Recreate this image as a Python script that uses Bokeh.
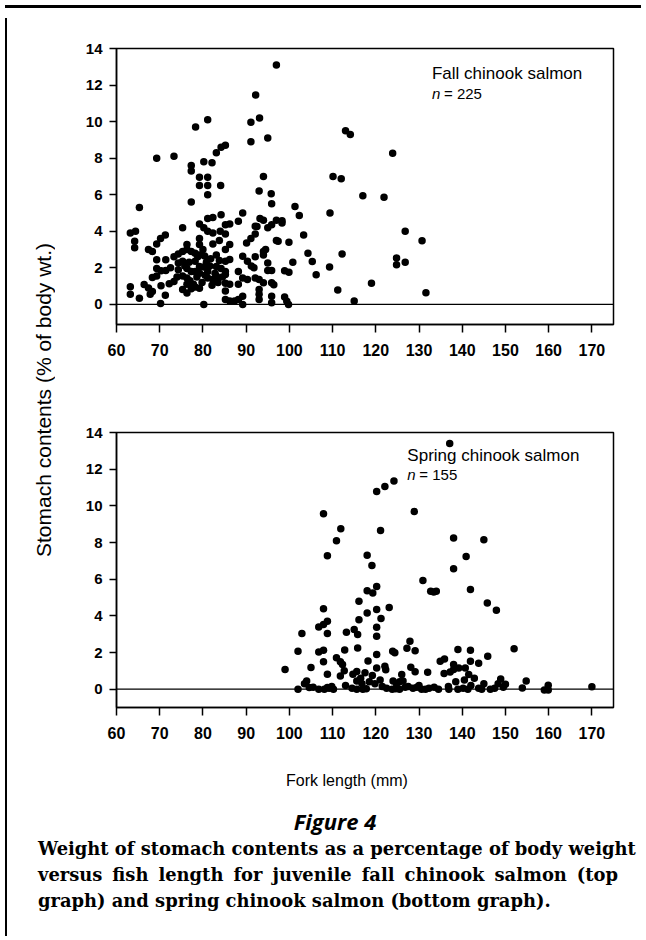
from bokeh.plotting import figure
from bokeh.models import Div, Span, Range1d, FixedTicker, ColumnDataSource
from bokeh.layouts import column, row
from bokeh.embed import file_html
from bokeh.resources import INLINE
from bokeh.core.properties import value

# ---------------- data ----------------
x_ticks = [60, 70, 80, 90, 100, 110, 120, 130, 140, 150, 160, 170]
y_ticks = [0, 2, 4, 6, 8, 10, 12, 14]

fall_length = [
    97.0, 92.2, 91.1, 93.1, 91.1, 95.0, 81.1, 78.3, 69.3, 73.3, 85.2, 84.2, 83.1, 80.2, 82.1, 77.3, 77.3,
    79.2, 81.1, 79.2, 81.1, 84.1, 81.1, 77.3, 65.3, 94.0, 93.0, 95.8, 95.9, 89.2, 101.3, 102.3, 103.3,
    109.4, 110.1, 112.0, 113.0, 114.1, 123.9, 117.0, 121.9, 126.8, 130.7, 104.3, 105.3, 106.2, 109.3,
    112.2, 124.8, 124.8, 126.8, 111.2, 115.0, 119.0, 131.6, 99.9, 100.8, 98.9, 99.9, 98.9, 99.8, 99.4,
    63.2, 64.4, 64.2, 64.2, 63.2, 63.2, 65.3,
    67.4, 68.3, 69.3, 70.2, 71.3,
    69.3, 71.4, 69.3, 70.3, 71.4,
    68.3, 69.3, 66.4, 67.4, 68.3, 67.8, 70.3, 71.3, 70.2,
    73.3, 74.3, 75.3, 75.3, 72.2, 73.3,
    74.3, 75.3, 74.3, 76.3, 77.3, 75.3, 76.3, 76.3,
    75.3, 76.3, 77.3, 78.2, 79.2,
    76.3, 77.3, 76.3, 78.2, 79.2, 80.4,
    78.2, 79.2, 80.2, 78.2, 79.2, 81.1,
    79.2, 79.2, 79.2, 80.2, 81.1, 81.1, 82.3, 82.3, 82.3,
    80.2, 81.1, 82.3, 83.1, 82.1,
    83.1, 84.2, 85.2, 83.1, 84.2, 85.2, 86.2, 85.2,
    85.2, 86.2, 85.2, 86.2, 85.2, 85.2, 86.2, 85.2, 85.2, 86.2,
    88.2, 88.2, 89.2, 90.3, 88.2, 89.2, 89.2, 88.2, 87.3,
    89.2, 90.3, 91.2, 90.1, 91.1, 92.1, 92.1, 93.2, 94.0,
    92.1, 94.0, 94.0, 92.1, 93.0, 94.0, 93.0, 93.0, 93.0,
    95.0, 95.0, 95.9, 95.9, 95.9, 95.9, 95.0, 95.9, 97.0, 97.0,
    96.4, 98.3, 98.3, 92.5, 94.5, 97.4,
    74.0, 75.8, 77.0, 78.6, 79.8, 80.8, 81.6, 82.8, 83.8, 84.5, 80.0, 83.8, 76.8, 72.5, 77.8,
    80.5, 81.8, 83.5, 78.8, 84.0, 91.8,
]
fall_stomach = [
    13.1, 11.45, 9.96, 10.2, 8.9, 9.1, 10.1, 9.7, 8.0, 8.1, 8.7, 8.6, 8.3, 7.8, 7.75, 7.6, 7.3,
    6.96, 6.95, 6.5, 6.5, 6.5, 6.0, 5.6, 5.3, 7.0, 6.2, 6.05, 5.5, 5.0, 5.36, 4.87, 3.8,
    5.0, 7.0, 6.88, 9.5, 9.3, 8.27, 5.94, 5.86, 4.0, 3.48, 2.8, 2.35, 1.62, 2.04,
    2.76, 2.54, 2.17, 2.3, 0.79, 0.19, 1.16, 0.64, 3.4, 2.3, 1.84, 1.76, 0.4, 0.0, 0.17,
    3.9, 4.0, 3.45, 3.1, 0.96, 0.55, 0.33,
    3.0, 2.9, 3.3, 3.6, 3.8,
    2.44, 2.44, 1.96, 1.84, 1.86,
    1.47, 1.55, 1.09, 0.9, 0.7, 0.55, 1.02, 0.5, 0.05,
    2.6, 2.76, 2.9, 4.2, 1.13, 1.25,
    2.27, 2.36, 1.9, 1.96, 1.8, 1.55, 1.45, 1.1,
    0.82, 0.62, 0.85, 0.95, 0.89,
    3.27, 2.9, 3.0, 2.8, 2.7, 2.65,
    2.36, 2.07, 2.04, 1.8, 1.7, 1.8,
    3.6, 3.27, 4.4, 4.2, 4.0, 4.7, 4.76, 3.9, 3.3,
    0.0, 1.45, 1.36, 1.55, 1.05,
    2.07, 1.96, 1.8, 2.7, 4.9, 4.36, 4.4, 3.85,
    3.0, 3.27, 2.36, 2.45, 1.64, 1.15, 1.1, 0.73, 0.27, 0.18,
    4.55, 1.8, 1.45, 1.36, 1.1, 0.45, 0.0, 0.27, 0.18,
    2.64, 2.36, 2.1, 3.36, 3.6, 3.85, 4.27, 4.7, 4.6,
    2.6, 2.9, 2.7, 1.45, 1.36, 1.18, 0.82, 0.55, 0.27,
    2.27, 1.85, 1.85, 1.18, 0.45, 0.09, 4.2, 4.36, 4.6, 3.5,
    1.08, 4.57, 4.45, 4.26, 3.0, 3.45,
    1.5, 2.1, 1.3, 1.5, 1.2, 2.3, 2.1, 1.7, 2.4, 1.5, 3.0, 3.5, 2.3, 2.0, 1.1,
    1.6, 2.5, 1.2, 2.6, 4.0, 2.0,
]

spring_length = [
    137.1, 120.2, 122.1, 124.2, 128.9, 107.9, 121.1, 111.9, 110.9, 138.0, 145.0, 108.8, 118.0, 119.1,
    140.9, 138.0, 130.9, 132.7, 133.4, 134.0, 141.9, 145.8, 147.9,
    118.0, 119.3, 120.2, 116.1, 118.0, 120.2, 121.2, 123.1, 116.1, 107.9,
    106.8, 107.9, 108.8, 108.8, 102.9, 113.2, 115.0, 115.8, 120.2, 120.2,
    102.0, 106.8, 107.9, 112.8, 115.8, 120.2, 123.9, 124.4, 127.9, 127.2, 129.1, 139.0, 141.9, 152.0, 145.9,
    99.0, 105.0, 107.9, 110.9, 111.8, 112.3, 111.8, 112.7, 108.8, 114.7, 115.6, 115.6, 118.2, 120.2,
    122.1, 122.3, 128.1, 129.1, 132.0, 134.9, 135.9, 135.8, 137.2, 138.0, 138.0, 139.2, 140.7, 141.5,
    141.9, 143.8, 140.5,
    148.9, 150.0, 154.8, 153.9, 159.9, 159.0, 159.9, 170.0,
    104.0, 104.6, 105.5, 116.5, 117.5, 118.5, 119.2, 116.8, 124.0, 124.8, 125.5, 126.3,
    102.0, 106.8, 108.1, 108.8, 109.8, 109.2, 110.2, 115.6, 114.5, 117.0, 117.8, 121.5, 122.5, 123.8,
    124.6, 125.5, 126.8, 127.5, 128.6, 129.5, 130.6, 131.5, 132.3, 134.5, 136.8, 136.9, 139.0, 140.2,
    141.3, 142.0, 143.8, 144.5, 146.5, 147.5, 148.3, 149.5,
    103.5, 113.0, 119.8, 121.0, 126.0, 130.0, 133.5, 138.5, 145.0, 142.8,
]
spring_stomach = [
    13.4, 10.78, 11.05, 11.36, 9.69, 9.57, 8.66, 8.75, 8.1, 8.24, 8.15, 7.28, 7.3, 6.75,
    7.24, 6.57, 5.93, 5.34, 5.30, 5.34, 5.43, 4.7, 4.3,
    5.37, 5.25, 5.6, 4.79, 4.16, 4.34, 3.85, 4.46, 3.79, 4.38,
    3.39, 3.53, 3.71, 3.04, 3.04, 3.1, 3.26, 2.98, 3.38, 2.89,
    2.07, 2.03, 2.12, 2.14, 2.25, 1.89, 2.07, 1.98, 2.61, 2.23, 2.1, 2.16, 2.12, 2.2, 1.8,
    1.07, 1.18, 1.5, 1.72, 1.5, 1.34, 0.72, 1.0, 0.82, 0.82, 0.96, 0.45, 1.53, 1.16,
    1.25, 1.06, 1.2, 0.95, 0.92, 1.52, 1.64, 0.85, 0.94, 1.34, 1.07, 1.16, 1.16, 0.8,
    1.52, 1.42, 0.5,
    0.56, 0.27, 0.44, 0.07, 0.22, -0.05, -0.05, 0.13,
    0.45, 0.09, 0.1, 0.6, 0.9, 0.4, 0.75, 0.3, 0.44, 0.3, 0.4, 0.45,
    0.0, 0.0, 0.0, 0.09, 0.15, 0.05, 0.0, 0.0, 0.05, 0.0, 0.02, 0.15, 0.05, 0.0,
    0.02, 0.0, 0.1, 0.15, 0.05, 0.1, 0.0, 0.0, 0.05, 0.0, 0.15, 0.0, 0.0, 0.05,
    0.0, 0.2, 0.05, 0.0, 0.0, 0.05, 0.3, 0.1,
    0.3, 0.2, 0.3, 0.5, 0.8, 0.2, 0.1, 0.4, 0.3, 0.6,
]

FONT = "Liberation Sans"


def make_panel(xs, ys, y_start, frame_h, top_b, bottom_b):
    p = figure(frame_width=497, frame_height=frame_h,
               x_range=Range1d(60, 175), y_range=Range1d(y_start, 14),
               output_backend="svg", toolbar_location=None,
               min_border_left=30, min_border_right=20,
               min_border_top=top_b, min_border_bottom=bottom_b,
               background_fill_color="white", border_fill_alpha=0)
    p.grid.visible = False
    p.outline_line_color = "black"
    p.outline_line_width = 1.5
    p.outline_line_alpha = 1.0

    for ax in (p.xaxis[0], p.yaxis[0]):
        ax.axis_line_width = 1.5
        ax.axis_line_color = "black"
        ax.major_tick_line_width = 1.5
        ax.major_tick_line_color = "black"
        ax.minor_tick_line_color = None
        ax.major_tick_in = 0
        ax.major_label_text_font = FONT
        ax.major_label_text_font_style = "bold"
        ax.major_label_text_color = "black"
    p.xaxis.ticker = FixedTicker(ticks=x_ticks)
    p.yaxis.ticker = FixedTicker(ticks=y_ticks)
    p.xaxis.major_tick_out = 8
    p.xaxis.major_label_standoff = 11
    p.xaxis.major_label_text_font_size = "16px"
    p.yaxis.major_tick_out = 7
    p.yaxis.major_label_standoff = 7
    p.yaxis.major_label_text_font_size = "15px"

    p.add_layout(Span(location=0, dimension="width", line_color="black", line_width=1.2))
    src = ColumnDataSource(dict(x=xs, y=ys))
    p.scatter("x", "y", source=src, size=7.5, color="black", line_width=0)
    return p


def add_label(p, x, y_title, y_n, title, n_text):
    p.text(x=[x], y=[y_title], text=[title], text_font=value(FONT),
           text_font_size="17px", text_baseline="middle", text_align="left", text_color="black")
    p.text(x=[x], y=[y_n], text=["n"], text_font=value(FONT), text_font_style="italic",
           text_font_size="15px", text_baseline="middle", text_align="left", text_color="black")
    p.text(x=[x], y=[y_n], x_offset=12, text=[n_text], text_font=value(FONT),
           text_font_size="15px", text_baseline="middle", text_align="left", text_color="black")


p1 = make_panel(fall_length, fall_stomach, -1.1, 276, 35, 60)
add_label(p1, 133.0, 12.63, 11.54, "Fall chinook salmon", "= 225")

p2 = make_panel(spring_length, spring_stomach, -1.0, 275, 48, 50)
add_label(p2, 127.3, 12.75, 11.7, "Spring chinook salmon", "= 155")

xlabel = Div(width=630, height=39, text=(
    '<div style="margin-left:30px;width:600px;text-align:center;margin-top:-1px;line-height:20px;'
    "font-family:'Liberation Sans';font-size:16px;color:black;white-space:nowrap;\">"
    'Fork length (mm)</div>'))

ylabel = Div(width=60, height=744, text=(
    '<div style="width:60px;height:744px;display:flex;align-items:center;justify-content:center;'
    'padding-right:6px;padding-top:20px;box-sizing:border-box;">'
    '<span style="writing-mode:vertical-rl;transform:rotate(180deg);white-space:nowrap;'
    "font-family:'Liberation Sans';font-size:21px;color:black;\">"
    'Stomach contents (% of body wt.)</span></div>'))

caption = Div(width=630, height=125, text=(
    '<div style="padding-left:21px;width:601px;color:black;margin-top:-15px;">'
    '<div style="height:30px;line-height:30px;text-align:center;padding-left:14px;'
    "font-family:'Open Sans';font-weight:bold;font-style:italic;font-size:22px;\">Figure 4</div>"
    "<div style=\"font-family:'DejaVu Serif';font-weight:bold;font-size:17.9px;line-height:25.8px;\">"
    '<div style="text-align:justify;text-align-last:justify;white-space:nowrap;">'
    'Weight of stomach contents as a percentage of body weight</div>'
    '<div style="text-align:justify;text-align-last:justify;">'
    'versus fish length for juvenile fall chinook salmon (top</div>'
    '<div style="text-align:left;white-space:nowrap;">graph) and spring chinook salmon (bottom graph).</div>'
    '</div></div>'))

top_line = Div(width=636, height=3, text="",
               styles={"background-color": "black", "width": "636px", "height": "2px"})
left_line = Div(width=2, height=918, text="",
                styles={"background-color": "black", "width": "2px", "height": "918px"})

layout = column(top_line, row(left_line, column(row(ylabel, column(p1, p2)), xlabel, caption)))

open("out.html", "w").write(file_html(layout, INLINE))
